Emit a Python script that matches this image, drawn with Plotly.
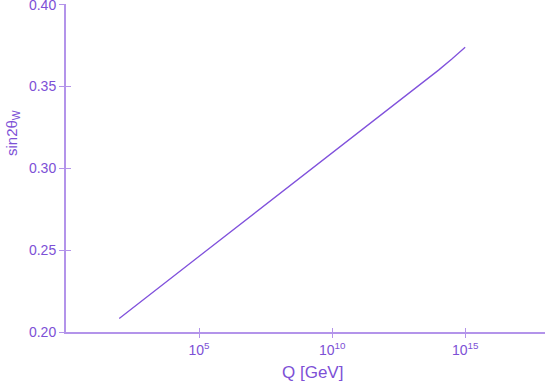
import plotly.graph_objects as go

# Data
log_q = [2, 4, 6, 8, 10, 12, 13, 13.6, 14, 14.5, 15]
sin2_theta_w = [0.2083, 0.2335, 0.2588, 0.2840, 0.3092, 0.3344, 0.3470, 0.3545, 0.3600, 0.3668, 0.3740]
q_gev = [10 ** v for v in log_q]

x_tickvals = [1e5, 1e10, 1e15]
x_ticktext = ["10<sup>5</sup>", "10<sup>10</sup>", "10<sup>15</sup>"]
y_tickvals = [0.20, 0.25, 0.30, 0.35, 0.40]
y_ticktext = ["0.20", "0.25", "0.30", "0.35", "0.40"]

LINE = "#8152dc"
AXIS = "#b394ea"
TEXT = "#7d50d6"
FONT = "Liberation Sans, Arial, sans-serif"

fig = go.Figure()
fig.add_trace(go.Scatter(x=q_gev, y=sin2_theta_w, mode="lines",
                         line=dict(color=LINE, width=1.3), showlegend=False))
# empty trace so the overlay axes (inner half of the ticks) are drawn
fig.add_trace(go.Scatter(x=[None], y=[None], xaxis="x2", yaxis="y2",
                         mode="lines", showlegend=False, hoverinfo="skip"))

common_x = dict(type="log", range=[0, 18], tickvals=x_tickvals, ticklen=4,
                tickcolor=AXIS, tickwidth=1, showgrid=False, zeroline=False,
                automargin=False)
common_y = dict(range=[0.2, 0.4004], tickvals=y_tickvals, ticklen=5,
                tickcolor=AXIS, tickwidth=1, showgrid=False, zeroline=False,
                automargin=False)

fig.update_layout(
    width=545, height=381,
    margin=dict(l=66, r=0, t=4, b=49),
    plot_bgcolor="white", paper_bgcolor="white",
    font=dict(family=FONT, color=TEXT, size=14),
    xaxis=dict(**common_x, ticktext=x_ticktext, ticks="outside",
               showline=True, linecolor=AXIS, linewidth=2,
               tickfont=dict(size=14, color=TEXT)),
    yaxis=dict(**common_y, ticktext=y_ticktext, ticks="outside",
               showline=True, linecolor=AXIS, linewidth=2,
               ticklabeloverflow="allow",
               tickfont=dict(size=14, color=TEXT)),
    xaxis2=dict(**common_x, overlaying="x", side="bottom", ticks="inside",
                showticklabels=False, showline=False),
    yaxis2=dict(**common_y, overlaying="y", side="left", ticks="inside",
                showticklabels=False, showline=False),
    annotations=[
        dict(text="Q [GeV]", xref="paper", yref="paper",
             x=(312 - 66) / 479, y=-(372 - 332) / 328,
             xanchor="center", yanchor="middle", showarrow=False,
             font=dict(size=17, color=TEXT)),
        dict(text="sin2θ<sub>W</sub>", xref="paper", yref="paper",
             x=-(66 - 12) / 479, y=(332 - 133) / 328, textangle=-90,
             xanchor="center", yanchor="middle", showarrow=False,
             font=dict(size=15, color=TEXT)),
    ],
)

fig.write_html(
    "out.html",
    config={"responsive": False, "displayModeBar": False},
    post_script="document.body.style.margin='0';document.body.style.overflow='hidden';",
)
